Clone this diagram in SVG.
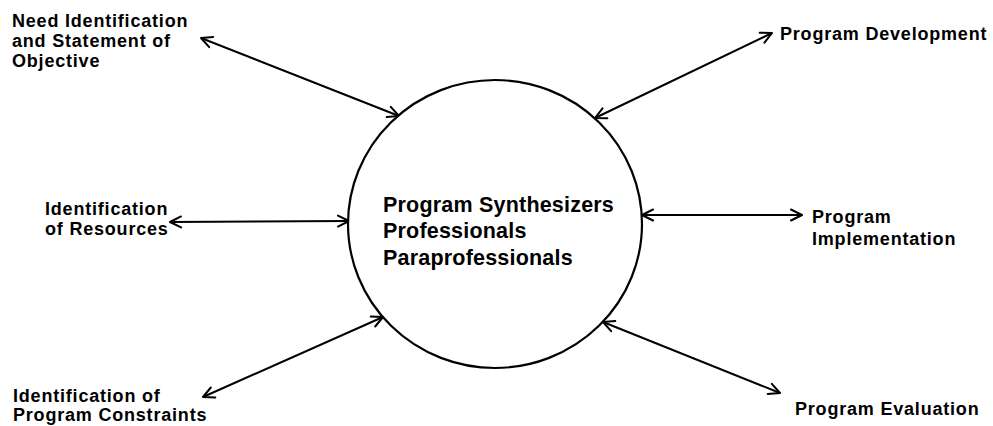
<svg xmlns="http://www.w3.org/2000/svg" width="993" height="426" viewBox="0 0 993 426">
  <style>
    .lbl { font-family: "Liberation Sans", Arial, sans-serif; font-weight: bold; font-size: 18px; letter-spacing: 0.8px; fill: #000; }
    .core { font-family: "Liberation Sans", Arial, sans-serif; font-weight: bold; font-size: 21.5px; letter-spacing: 0.2px; fill: #000; }
    .link { stroke: #000; stroke-width: 2; fill: none; marker-start: url(#head); marker-end: url(#head); }
    .ring { stroke: #000; stroke-width: 2.2; fill: #fff; }
  </style>
  <defs>
    <marker id="head" viewBox="0 0 14 14" refX="13" refY="7" markerWidth="14" markerHeight="14" markerUnits="userSpaceOnUse" orient="auto-start-reverse">
      <path d="M2,1.5 L13,7 L2,12.5" fill="none" stroke="#000" stroke-width="2" stroke-linecap="round" stroke-linejoin="round"/>
    </marker>
  </defs>
  <rect width="993" height="426" fill="#fff"/>

  <!-- connectors: every link is two-way -->
  <g id="connectors">
    <line class="link" x1="201" y1="38" x2="399" y2="116"/>
    <line class="link" x1="772" y1="33" x2="595" y2="118"/>
    <line class="link" x1="170" y1="222" x2="349" y2="221"/>
    <line class="link" x1="802" y1="215" x2="642" y2="215"/>
    <line class="link" x1="203" y1="397" x2="383" y2="317"/>
    <line class="link" x1="780" y1="393" x2="603" y2="322"/>
  </g>

  <!-- central hub -->
  <g id="hub">
    <ellipse class="ring" cx="495" cy="224" rx="147" ry="144"/>
    <text class="core" x="383" y="212">Program Synthesizers</text>
    <text class="core" x="383" y="238">Professionals</text>
    <text class="core" x="383" y="265">Paraprofessionals</text>
  </g>

  <g id="need">
    <text class="lbl" x="12" y="27">Need Identification</text>
    <text class="lbl" x="12" y="47">and Statement of</text>
    <text class="lbl" x="12" y="67">Objective</text>
  </g>

  <g id="resources">
    <text class="lbl" x="45" y="215">Identification</text>
    <text class="lbl" x="45" y="235">of Resources</text>
  </g>

  <g id="constraints">
    <text class="lbl" x="13" y="402">Identification of</text>
    <text class="lbl" x="13" y="421">Program Constraints</text>
  </g>

  <g id="development">
    <text class="lbl" x="780" y="40">Program Development</text>
  </g>

  <g id="implementation">
    <text class="lbl" x="812" y="223">Program</text>
    <text class="lbl" x="812" y="245">Implementation</text>
  </g>

  <g id="evaluation">
    <text class="lbl" x="795" y="415">Program Evaluation</text>
  </g>
</svg>
